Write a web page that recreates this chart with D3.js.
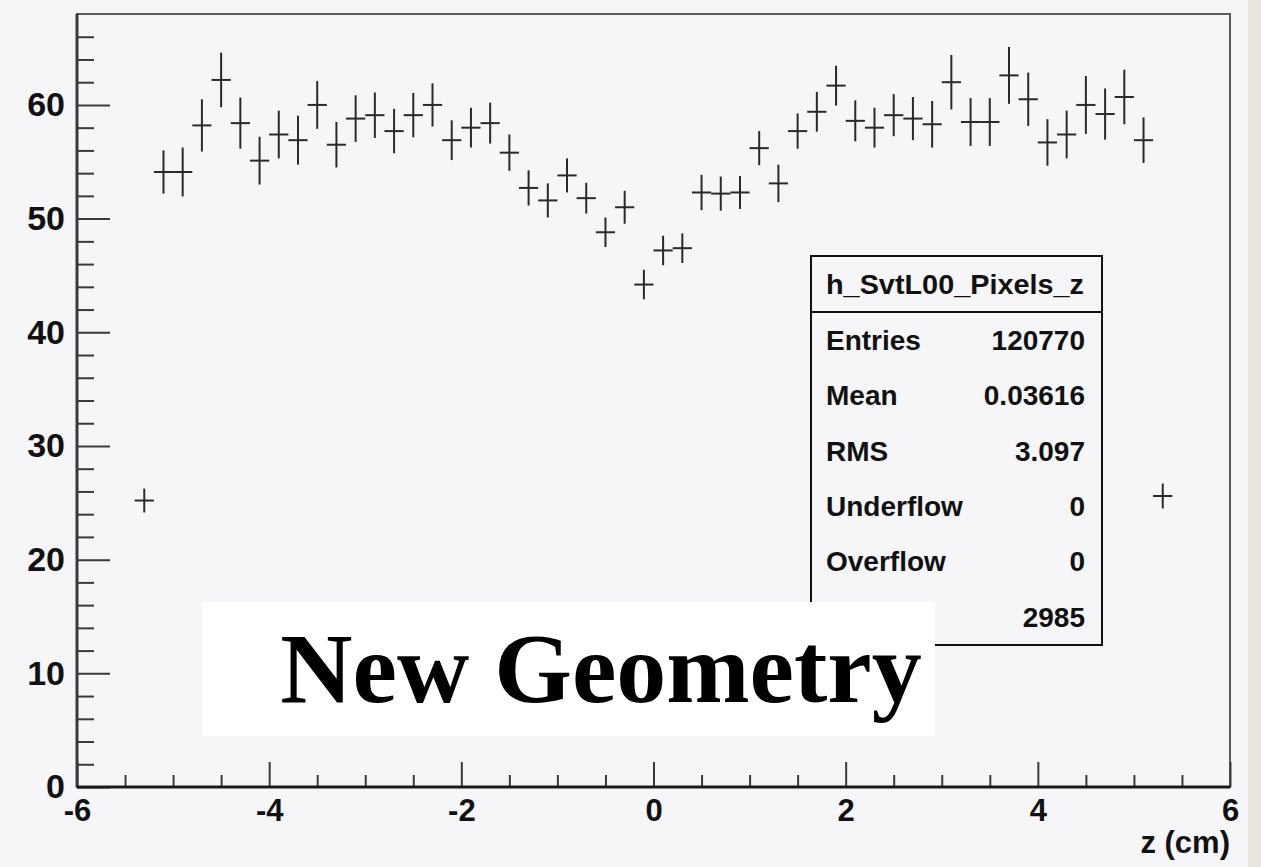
<!DOCTYPE html>
<html>
<head>
<meta charset="utf-8">
<script src="https://cdn.jsdelivr.net/npm/d3@7"></script>
<style>
  body { margin: 0; background: #f6f6f8; }
  svg { display: block; }
  .tick text { font-family: "Liberation Sans", Arial, sans-serif; font-weight: bold; fill: #111; }
</style>
</head>
<body>
<svg id="hist" width="1261" height="867"></svg>
<script>
// bin centres (cm), bin contents and their errors
const zCenters = [-5.3, -5.1, -4.9, -4.7, -4.5, -4.3, -4.1, -3.9, -3.7, -3.5, -3.3, -3.1, -2.9, -2.7,
  -2.5, -2.3, -2.1, -1.9, -1.7, -1.5, -1.3, -1.1, -0.9, -0.7, -0.5, -0.3, -0.1,
  0.1, 0.3, 0.5, 0.7, 0.9, 1.1, 1.3, 1.5, 1.7, 1.9, 2.1, 2.3, 2.5, 2.7, 2.9,
  3.1, 3.3, 3.5, 3.7, 3.9, 4.1, 4.3, 4.5, 4.7, 4.9, 5.1, 5.3];
const counts = [25.2, 54.1, 54.1, 58.2, 62.2, 58.4, 55.1, 57.4, 56.9, 60.0, 56.5, 58.8, 59.1, 57.7,
  59.1, 60.0, 56.9, 58.0, 58.4, 55.8, 52.7, 51.6, 53.8, 51.8, 48.8, 51.0, 44.2,
  47.2, 47.4, 52.3, 52.2, 52.3, 56.2, 53.1, 57.7, 59.4, 61.7, 58.6, 58.0, 59.1, 58.8, 58.3,
  62.0, 58.5, 58.5, 62.6, 60.5, 56.7, 57.4, 60.0, 59.2, 60.7, 56.9, 25.6];
const errors = [1.05, 1.9, 2.15, 2.3, 2.4, 2.25, 2.1, 2.1, 2.15, 2.1, 2.0, 2.05, 2.0, 1.95,
  1.95, 1.9, 1.75, 1.75, 1.8, 1.6, 1.55, 1.5, 1.5, 1.35, 1.3, 1.45, 1.3,
  1.3, 1.3, 1.55, 1.5, 1.45, 1.5, 1.65, 1.55, 1.75, 1.75, 1.8, 1.75, 1.85, 1.9, 2.05,
  2.4, 2.1, 2.1, 2.5, 2.35, 2.05, 2.1, 2.55, 2.25, 2.4, 2.0, 1.1];
const binWidth = 0.2;

const xMajor = [-6, -4, -2, 0, 2, 4, 6];
const xMinor = [-5.5, -5, -4.5, -3.5, -3, -2.5, -1.5, -1, -0.5, 0.5, 1, 1.5, 2.5, 3, 3.5, 4.5, 5, 5.5];
const yMajor = [0, 10, 20, 30, 40, 50, 60];
const yMinor = [2, 4, 6, 8, 12, 14, 16, 18, 22, 24, 26, 28, 32, 34, 36, 38, 42, 44, 46, 48,
  52, 54, 56, 58, 62, 64, 66];

// last label (Integral) is hidden behind the "New Geometry" box in the original
const statNames = ["Entries", "Mean", "RMS", "Underflow", "Overflow", ""];
const statValues = ["120770", "0.03616", "3.097", "0", "0", "2985"];

const svg = d3.select('#hist');
const W = 1261, H = 867;

svg.append('rect').attr('width', W).attr('height', H).attr('fill', '#f6f6f8');
svg.append('rect').attr('x', 1248).attr('width', W - 1248).attr('height', H).attr('fill', '#e9e6df');

const x = d3.scaleLinear().domain([-6, 6]).range([77, 1230]);
const y = d3.scaleLinear().domain([0, 68]).range([787, 14]);

// frame (top and right thinner, grey)
svg.append('rect')
  .attr('x', x(-6)).attr('y', y(68))
  .attr('width', x(6) - x(-6)).attr('height', y(0) - y(68))
  .attr('fill', 'none').attr('stroke', '#5a5a5a').attr('stroke-width', 2);

// y axis: major ticks + labels, minor ticks
const yAx = svg.append('g').attr('transform', `translate(${x(-6)},0)`)
  .call(d3.axisLeft(y).tickValues(yMajor).tickSizeInner(-33).tickSizeOuter(0).tickPadding(12));
yAx.selectAll('text').style('font-size', '34px');
svg.append('g').attr('transform', `translate(${x(-6)},0)`)
  .call(d3.axisLeft(y).tickValues(yMinor).tickSizeInner(-17).tickSizeOuter(0).tickFormat(''));

// x axis
const xAx = svg.append('g').attr('transform', `translate(0,${y(0)})`)
  .call(d3.axisBottom(x).tickValues(xMajor).tickSizeInner(-25).tickSizeOuter(0).tickPadding(12)
    .tickFormat(d => String(d)));
xAx.selectAll('text').style('font-size', '31px');
svg.append('g').attr('transform', `translate(0,${y(0)})`)
  .call(d3.axisBottom(x).tickValues(xMinor).tickSizeInner(-12).tickSizeOuter(0).tickFormat(''));

svg.selectAll('.domain').remove();
svg.selectAll('.tick line').attr('stroke', '#3a3a3a').attr('stroke-width', 2);

// axis lines
svg.append('line').attr('x1', x(-6)).attr('x2', x(-6)).attr('y1', y(68)).attr('y2', y(0))
  .attr('stroke', '#3a3a3a').attr('stroke-width', 3);
svg.append('line').attr('x1', x(-6)).attr('x2', x(6)).attr('y1', y(0)).attr('y2', y(0))
  .attr('stroke', '#1a1a1a').attr('stroke-width', 3);

svg.append('text')
  .attr('x', x(6)).attr('y', 853)
  .attr('text-anchor', 'end')
  .style('font-family', '"Liberation Sans", Arial, sans-serif')
  .style('font-weight', 'bold').style('font-size', '31px').attr('fill', '#111')
  .text('z (cm)');

// data points with error bars
const pts = svg.append('g').selectAll('g')
  .data(zCenters.map((z, i) => ({ z, v: counts[i], e: errors[i] })))
  .enter().append('g')
  .attr('stroke', '#2a2a2a').attr('stroke-width', 2);
pts.append('line')
  .attr('x1', d => x(d.z - binWidth / 2)).attr('x2', d => x(d.z + binWidth / 2))
  .attr('y1', d => y(d.v)).attr('y2', d => y(d.v));
pts.append('line')
  .attr('x1', d => x(d.z)).attr('x2', d => x(d.z))
  .attr('y1', d => y(d.v - d.e)).attr('y2', d => y(d.v + d.e));

// stats box
const box = svg.append('g').attr('transform', 'translate(811,256)');
box.append('rect').attr('width', 291).attr('height', 389)
  .attr('fill', '#f6f6f8').attr('stroke', '#111').attr('stroke-width', 2);
box.append('line').attr('x1', 0).attr('x2', 291).attr('y1', 56).attr('y2', 56)
  .attr('stroke', '#111').attr('stroke-width', 2);
const statFont = s => s.style('font-family', '"Liberation Sans", Arial, sans-serif')
  .style('font-weight', 'bold').style('font-size', '28px').attr('fill', '#111');
box.append('text').attr('x', 144).attr('y', 38).attr('text-anchor', 'middle')
  .attr('textLength', 258).attr('lengthAdjust', 'spacingAndGlyphs')
  .text('h_SvtL00_Pixels_z').call(statFont);
statNames.forEach((name, i) => {
  if (name) box.append('text').attr('x', 15).attr('y', 94 + i * 55.3).text(name).call(statFont);
  box.append('text').attr('x', 274).attr('y', 94 + i * 55.3).attr('text-anchor', 'end')
    .text(statValues[i]).call(statFont);
});

// label
svg.append('rect').attr('x', 202).attr('y', 602).attr('width', 733).attr('height', 134).attr('fill', '#fff');
svg.append('text').attr('x', 601).attr('y', 702).attr('text-anchor', 'middle')
  .style('font-family', '"Liberation Serif", "Times New Roman", serif')
  .style('font-weight', 'bold').style('font-size', '100px').attr('fill', '#000')
  .text('New Geometry');
</script>
</body>
</html>
